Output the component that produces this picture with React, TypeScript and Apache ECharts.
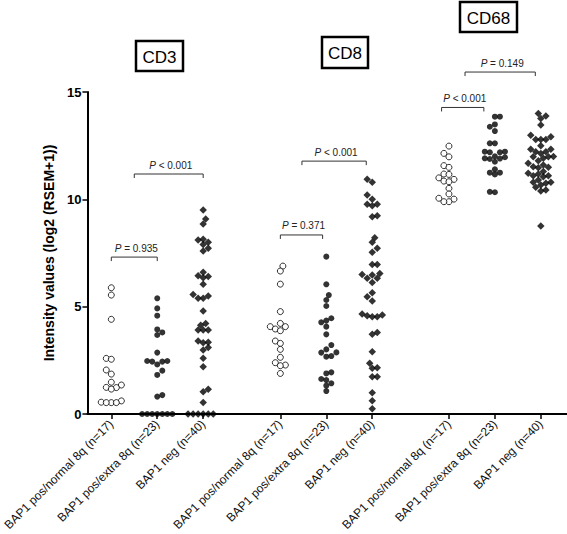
import React, { useEffect, useRef } from "react";
import * as echarts from "echarts";

const FONT = "'Liberation Sans', Arial, Helvetica, sans-serif";

const groupLabels = ["BAP1 pos/normal 8q (n=17)", "BAP1 pos/extra 8q (n=23)", "BAP1 neg (n=40)"];
const panelTitles = ["CD3", "CD8", "CD68"];
const positions = [1, 2, 3, 4.68, 5.68, 6.68, 8.35, 9.35, 10.35];
const symbols = ["circle", "circle", "diamond"];

const cd3PosNormal = [5.88, 5.54, 4.41, 2.59, 2.55, 2.05, 1.86, 1.48, 1.35, 1.24, 1.23, 1.16, 0.61, 0.55, 0.53, 0.53, 0.53];
const cd3PosExtra = [5.39, 4.92, 4.58, 3.94, 3.8, 3.68, 2.86, 2.47, 2.47, 2.44, 2.44, 2.31, 2.02, 1.82, 0.88, 0.81, 0, 0, 0, 0, 0, 0, 0];
const cd3Neg = [9.5, 9.08, 8.85, 8.14, 8.1, 8.0, 7.9, 7.72, 7.59, 6.6, 6.44, 6.4, 6.35, 6.04, 5.57, 5.5, 5.39, 5.39, 4.8, 4.22, 4.14, 3.91, 3.91, 3.91, 3.4, 3.34, 3.32, 3.1, 2.98, 2.6, 2.2, 1.15, 1.04, 0.54, 0, 0, 0, 0, 0, 0];
const cd8PosNormal = [6.89, 6.66, 6.05, 4.77, 4.22, 4.07, 4.07, 3.96, 3.88, 3.4, 3.29, 3.01, 2.64, 2.39, 2.28, 2.25, 1.89];
const cd8PosExtra = [7.33, 6.04, 5.54, 5.31, 5.03, 4.46, 4.35, 4.27, 4.07, 3.71, 3.21, 3.01, 2.87, 2.86, 2.7, 2.67, 1.94, 1.89, 1.63, 1.58, 1.43, 1.32, 1.07];
const cd8Neg = [10.93, 10.79, 10.2, 10.0, 9.77, 9.77, 9.7, 9.24, 9.19, 8.21, 8.0, 7.72, 7.53, 6.97, 6.97, 6.55, 6.5, 6.47, 6.32, 6.32, 6.12, 5.65, 5.46, 5.26, 4.66, 4.61, 4.58, 4.53, 4.53, 3.8, 3.71, 2.9, 2.36, 2.16, 2.13, 1.74, 1.74, 0.99, 0.62, 0.25];
const cd68PosNormal = [12.48, 12.14, 11.98, 11.57, 11.49, 11.18, 11.16, 11.0, 10.93, 10.85, 10.82, 10.51, 10.25, 10.05, 10.01, 9.89, 9.89];
const cd68PosExtra = [13.85, 13.85, 13.49, 13.38, 13.18, 12.61, 12.61, 12.22, 12.22, 12.19, 12.19, 12.0, 11.96, 11.91, 11.9, 11.88, 11.75, 11.4, 11.24, 11.24, 11.16, 10.35, 10.33];
const cd68Neg = [14.0, 13.88, 13.77, 13.46, 12.99, 12.92, 12.79, 12.79, 12.79, 12.5, 12.33, 12.33, 12.22, 12.22, 12.14, 12.0, 11.98, 11.98, 11.91, 11.8, 11.68, 11.6, 11.52, 11.49, 11.47, 11.3, 11.21, 11.18, 11.1, 11.1, 11.05, 10.9, 10.79, 10.79, 10.75, 10.67, 10.56, 10.43, 10.39, 8.76];

const groups = [cd3PosNormal, cd3PosExtra, cd3Neg, cd8PosNormal, cd8PosExtra, cd8Neg, cd68PosNormal, cd68PosExtra, cd68Neg];

// bracket: [x start, x end, y level]
const brackets = [
  [1, 2, 7.31],
  [1.5, 3, 11.18],
  [4.68, 5.6, 8.34],
  [5.15, 6.55, 11.78],
  [8.19, 9.11, 14.28],
  [8.7, 10.23, 15.93],
];
const bracketLabels = ["= 0.935", "< 0.001", "= 0.371", "< 0.001", "< 0.001", "= 0.149"];

const X_MIN = 0.48;
const X_MAX = 10.92;
const Y_MIN = 0;
const Y_MAX = 15;
const GRID = { left: 82, top: 92, width: 485, height: 322 };
const pxPerX = GRID.width / (X_MAX - X_MIN);
const pxPerY = GRID.height / (Y_MAX - Y_MIN);

function swarm(vals: number[], d: number): number[] {
  const order = vals.map((_, i) => i).sort((a, b) => vals[a] - vals[b]);
  const placed: { x: number; y: number }[] = [];
  const offs = new Array(vals.length).fill(0);
  const step = d / 2;
  order.forEach((i) => {
    const y = vals[i] * pxPerY;
    let best = 0;
    for (let k = 0; k < 60; k++) {
      const sign = placed.length % 2 === 0 ? 1 : -1;
      const cands = k === 0 ? [0] : [sign * k * step, -sign * k * step];
      let found: number | null = null;
      for (const c of cands) {
        if (placed.every((p) => (p.x - c) ** 2 + (p.y - y) ** 2 >= d * d)) {
          found = c;
          break;
        }
      }
      if (found !== null) {
        best = found;
        break;
      }
    }
    placed.push({ x: best, y });
    offs[i] = best / pxPerX;
  });
  return offs;
}

const titleBoxes = [
  { x: 136, y: 41, w: 47, h: 30 },
  { x: 322, y: 37, w: 46, h: 31 },
  { x: 460, y: 2, w: 57, h: 30 },
];

export default function App() {
  const ref = useRef<HTMLDivElement>(null);
  useEffect(() => {
    if (!ref.current) return;
    const chart = echarts.init(ref.current, null, { renderer: "svg" });

    const scatterSeries = groups.map((vals, gi) => {
      const offs = swarm(vals, 5.1);
      const kind = gi % 3;
      return {
        type: "scatter",
        name: panelTitles[Math.floor(gi / 3)] + " " + groupLabels[kind],
        symbol: symbols[kind],
        symbolSize: kind === 2 ? 7.5 : 6,
        itemStyle:
          kind === 0
            ? { color: "#ffffff", borderColor: "#000000", borderWidth: 1 }
            : { color: "#000000", borderWidth: 0 },
        data: vals.map((v, i) => [positions[gi] + offs[i], v]),
        z: 3,
      };
    });

    const bracketSeries = {
      type: "custom",
      clip: false,
      encode: { x: [0, 1], y: 2 },
      data: brackets,
      z: 4,
      renderItem: (params: any, api: any) => {
        const p1 = api.coord([api.value(0), api.value(2)]);
        const p2 = api.coord([api.value(1), api.value(2)]);
        const label = bracketLabels[params.dataIndex];
        return {
          type: "group",
          children: [
            {
              type: "polyline",
              shape: {
                points: [
                  [p1[0], p1[1] + 4],
                  [p1[0], p1[1]],
                  [p2[0], p2[1]],
                  [p2[0], p2[1] + 4],
                ],
              },
              style: { stroke: "#333333", lineWidth: 1, fill: null },
            },
            {
              type: "text",
              x: (p1[0] + p2[0]) / 2 + 2,
              y: p1[1] - 4,
              style: {
                text: "{i|P} " + label,
                rich: { i: { fontStyle: "italic", fontSize: 10, fontFamily: FONT, fill: "#222" } },
                fontSize: 10,
                fontFamily: FONT,
                fill: "#222222",
                align: "center",
                textAlign: "center",
                verticalAlign: "bottom",
                textVerticalAlign: "bottom",
              },
            },
          ],
        };
      },
    };

    const graphics: any[] = [];
    titleBoxes.forEach((b, i) => {
      graphics.push({
        type: "rect",
        shape: { x: b.x, y: b.y, width: b.w, height: b.h },
        style: { fill: "#ffffff", stroke: "#000000", lineWidth: 2.5 },
        z: 10,
      });
      graphics.push({
        type: "text",
        x: b.x + b.w / 2,
        y: b.y + b.h / 2 + 1,
        style: {
          text: panelTitles[i],
          fontSize: 17,
          fontFamily: FONT,
          fill: "#000000",
          align: "center",
          textAlign: "center",
          verticalAlign: "middle",
          textVerticalAlign: "middle",
        },
        z: 11,
      });
    });

    const labelFor = (v: number) => {
      let idx = 0;
      let bestD = Infinity;
      positions.forEach((p, i) => {
        const dd = Math.abs(p - v);
        if (dd < bestD) {
          bestD = dd;
          idx = i;
        }
      });
      return groupLabels[idx % 3];
    };

    chart.setOption({
      animation: false,
      backgroundColor: "#ffffff",
      textStyle: { fontFamily: FONT },
      grid: { left: GRID.left, top: GRID.top, width: GRID.width, height: GRID.height, containLabel: false },
      xAxis: {
        type: "value",
        min: X_MIN,
        max: X_MAX,
        splitLine: { show: false },
        axisLine: { show: true, onZero: false, lineStyle: { color: "#000000", width: 2 } },
        axisTick: {
          show: true,
          customValues: positions,
          length: 5,
          lineStyle: { color: "#000000", width: 1.5 },
        },
        axisLabel: {
          show: true,
          customValues: positions,
          rotate: 45,
          margin: 8,
          fontSize: 12,
          color: "#111111",
          fontFamily: FONT,
          formatter: (v: number) => labelFor(v),
        },
      },
      yAxis: {
        type: "value",
        min: Y_MIN,
        max: Y_MAX,
        interval: 5,
        name: "Intensity values (log2 (RSEM+1))",
        nameLocation: "middle",
        nameGap: 24,
        nameTextStyle: { fontSize: 14, fontWeight: "bold", color: "#000000", fontFamily: FONT },
        splitLine: { show: false },
        axisLine: { show: true, lineStyle: { color: "#000000", width: 2 } },
        axisTick: { show: true, length: 5, lineStyle: { color: "#000000", width: 1.5 } },
        axisLabel: { fontSize: 13, fontWeight: "bold", color: "#000000", margin: 6, fontFamily: FONT },
      },
      graphic: graphics,
      series: [...scatterSeries, bracketSeries],
    });
    return () => chart.dispose();
  }, []);
  return (
    <div
      ref={ref}
      style={{ position: "absolute", left: 0, top: 0, width: 567, height: 534, background: "#fff" }}
    />
  );
}
